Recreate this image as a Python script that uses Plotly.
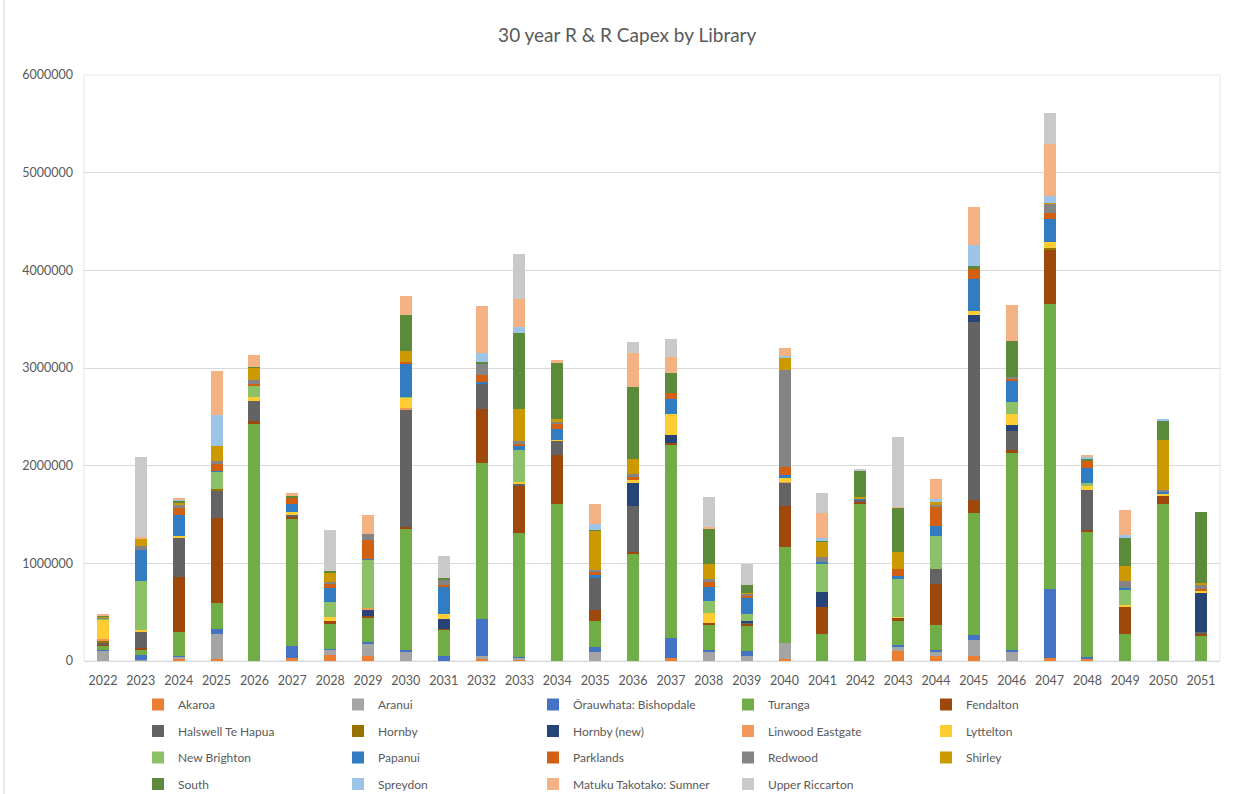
import plotly.graph_objects as go

years = ["2022", "2023", "2024", "2025", "2026", "2027", "2028", "2029", "2030", "2031",
         "2032", "2033", "2034", "2035", "2036", "2037", "2038", "2039", "2040", "2041",
         "2042", "2043", "2044", "2045", "2046", "2047", "2048", "2049", "2050", "2051"]

akaroa = [0, 0, 30000, 20000, 0, 30000, 65000, 50000, 0, 0, 30000, 20000, 0, 0, 0, 30000, 0, 0, 25000, 0, 0, 100000, 50000, 50000, 0, 30000, 30000, 0, 0, 0]
aranui = [105000, 15000, 15000, 260000, 0, 0, 55000, 130000, 100000, 0, 20000, 12000, 0, 95000, 0, 0, 100000, 50000, 155000, 0, 0, 50000, 50000, 170000, 100000, 0, 0, 0, 0, 0]
orauwhata = [5000, 50000, 5000, 50000, 0, 120000, 8000, 10000, 8000, 55000, 380000, 12000, 0, 45000, 0, 205000, 12000, 50000, 0, 0, 0, 12000, 12000, 45000, 8000, 710000, 15000, 0, 0, 0]
turanga = [50000, 50000, 250000, 260000, 2430000, 1305000, 260000, 255000, 1250000, 265000, 1600000, 1270000, 1610000, 265000, 1100000, 1985000, 260000, 260000, 985000, 275000, 1610000, 250000, 260000, 1250000, 2030000, 2915000, 1280000, 280000, 1610000, 265000]
fendalton = [10000, 15000, 560000, 870000, 25000, 15000, 20000, 15000, 12000, 12000, 555000, 475000, 500000, 120000, 12000, 15000, 20000, 20000, 420000, 280000, 20000, 30000, 415000, 135000, 20000, 560000, 12000, 280000, 75000, 15000]
halswell = [10000, 170000, 400000, 290000, 210000, 30000, 0, 0, 1210000, 0, 255000, 30000, 145000, 330000, 470000, 0, 0, 15000, 240000, 0, 20000, 0, 150000, 1820000, 195000, 0, 415000, 0, 0, 20000]
hornby = [30000, 0, 0, 12000, 0, 0, 0, 0, 0, 0, 0, 0, 0, 0, 0, 0, 0, 0, 0, 0, 0, 0, 0, 0, 0, 12000, 0, 0, 0, 0]
hornby_new = [0, 5000, 0, 0, 0, 0, 0, 70000, 0, 100000, 0, 0, 0, 0, 240000, 75000, 0, 10000, 0, 155000, 0, 0, 0, 75000, 60000, 0, 0, 0, 0, 400000]
linwood = [15000, 0, 0, 0, 0, 0, 0, 10000, 8000, 0, 0, 0, 0, 0, 0, 0, 0, 0, 8000, 0, 0, 0, 0, 0, 0, 0, 0, 0, 0, 0]
lyttelton = [200000, 15000, 20000, 0, 40000, 30000, 40000, 0, 105000, 50000, 0, 15000, 12000, 0, 30000, 215000, 100000, 0, 40000, 0, 0, 10000, 0, 40000, 120000, 60000, 40000, 12000, 25000, 20000]
new_brighton = [10000, 500000, 0, 175000, 120000, 0, 155000, 500000, 12000, 0, 0, 330000, 0, 0, 0, 0, 120000, 75000, 0, 290000, 0, 385000, 340000, 0, 120000, 0, 30000, 160000, 0, 0]
papanui = [0, 315000, 220000, 8000, 0, 75000, 140000, 8000, 340000, 280000, 12000, 40000, 110000, 30000, 0, 160000, 150000, 165000, 30000, 12000, 12000, 30000, 105000, 330000, 215000, 235000, 155000, 15000, 30000, 0]
parklands = [0, 0, 70000, 70000, 15000, 70000, 50000, 190000, 12000, 20000, 80000, 20000, 55000, 30000, 30000, 60000, 50000, 30000, 80000, 0, 0, 70000, 200000, 100000, 15000, 60000, 75000, 0, 0, 15000]
redwood = [10000, 40000, 25000, 30000, 40000, 0, 15000, 60000, 0, 55000, 115000, 30000, 15000, 15000, 35000, 0, 30000, 20000, 995000, 55000, 0, 0, 12000, 0, 25000, 100000, 0, 75000, 12000, 50000]
shirley = [10000, 80000, 30000, 155000, 120000, 0, 100000, 0, 120000, 0, 0, 330000, 30000, 405000, 155000, 0, 150000, 5000, 120000, 155000, 15000, 180000, 30000, 0, 0, 12000, 0, 150000, 510000, 15000]
south = [10000, 0, 15000, 0, 12000, 15000, 15000, 0, 365000, 15000, 12000, 775000, 575000, 8000, 730000, 200000, 365000, 80000, 0, 8000, 275000, 450000, 0, 30000, 370000, 0, 15000, 285000, 200000, 730000]
spreydon = [0, 0, 10000, 320000, 0, 0, 0, 0, 0, 0, 90000, 60000, 0, 60000, 0, 0, 0, 0, 30000, 30000, 0, 0, 35000, 215000, 0, 70000, 25000, 30000, 12000, 0]
sumner = [20000, 15000, 20000, 450000, 117000, 35000, 0, 195000, 200000, 0, 490000, 285000, 25000, 200000, 350000, 170000, 12000, 0, 75000, 255000, 0, 12000, 200000, 390000, 370000, 525000, 15000, 260000, 0, 0]
upper_riccarton = [0, 815000, 0, 0, 0, 0, 420000, 0, 0, 220000, 0, 460000, 0, 0, 110000, 180000, 315000, 215000, 0, 210000, 12000, 715000, 0, 0, 0, 320000, 0, 0, 0, 0]

series_names = ["Akaroa", "Aranui", "Ōrauwhata: Bishopdale", "Turanga", "Fendalton",
                "Halswell Te Hapua", "Hornby", "Hornby (new)", "Linwood Eastgate", "Lyttelton",
                "New Brighton", "Papanui", "Parklands", "Redwood", "Shirley",
                "South", "Spreydon", "Matuku Takotako: Sumner", "Upper Riccarton"]
series_values = [akaroa, aranui, orauwhata, turanga, fendalton,
                 halswell, hornby, hornby_new, linwood, lyttelton,
                 new_brighton, papanui, parklands, redwood, shirley,
                 south, spreydon, sumner, upper_riccarton]
colors = ["#ED7D31", "#A5A5A5", "#4472C4", "#70AD47", "#9E480E",
          "#636363", "#997300", "#264478", "#F1975A", "#FFCD33",
          "#8CC168", "#327DC2", "#D26012", "#848484", "#CC9A00",
          "#5B8A3A", "#9DC3E6", "#F4B183", "#C9C9C9"]

FONT = "Lato, 'Open Sans', sans-serif"
TXT = "#595959"

# plot area in pixels
PL, PR, PT, PB = 84, 1220, 75, 661
W, H = 1247, 794
PW, PH = PR - PL, PB - PT

fig = go.Figure()
legend_ids = ["legend", "legend2", "legend3", "legend4", "legend5"]
for i, (name, vals, col) in enumerate(zip(series_names, series_values, colors)):
    fig.add_trace(go.Bar(
        x=years, y=vals, name=name,
        marker=dict(color=col, line=dict(width=0)),
        legend=legend_ids[i % 5], legendgroup=name,
        hovertemplate="%{x}<br>" + name + ": %{y}<extra></extra>",
    ))

legend_left_px = [138, 338, 533, 728, 926]
legend_top_px = 690
legends = {}
for k, lid in enumerate(legend_ids):
    legends[lid] = dict(
        x=(legend_left_px[k] - PL) / PW, xanchor="left",
        y=(PB - legend_top_px) / PH, yanchor="top",
        orientation="v", tracegroupgap=7.5,
        font=dict(family=FONT, size=12, color=TXT),
        bgcolor="rgba(0,0,0,0)", borderwidth=0,
    )

fig.update_layout(
    width=W, height=H,
    margin=dict(l=PL, r=W - PR, t=PT, b=H - PB, autoexpand=False),
    paper_bgcolor="white", plot_bgcolor="white",
    barmode="stack", bargap=0.683,
    font=dict(family=FONT, size=12, color=TXT),
    title=dict(text="30 year R & R Capex by Library", x=0.503, xanchor="center",
               y=1 - 35 / H, yanchor="middle", yref="container",
               font=dict(family=FONT, size=19, color=TXT)),
    xaxis=dict(type="category", showgrid=False, showline=True, linecolor="#D9D9D9",
               linewidth=1, ticks="", tickfont=dict(family=FONT, size=12.5, color=TXT),
               ticklabelstandoff=8),
    yaxis=dict(range=[0, 6000000], dtick=1000000, tickformat=".0f", showgrid=True,
               gridcolor="#D9D9D9", gridwidth=1, zeroline=False, showline=False,
               ticks="", tickfont=dict(family=FONT, size=12.5, color=TXT),
               ticklabelstandoff=10),
    showlegend=True,
    **legends,
)

# faint plot-area border and chart-area left border
fig.add_shape(type="rect", xref="paper", yref="paper", x0=0, x1=1, y0=0, y1=1,
              line=dict(color="#DEE7F2", width=1), layer="below")
fig.add_shape(type="line", xref="paper", yref="paper",
              x0=(4 - PL) / PW, x1=(4 - PL) / PW, y0=(PB - 0) / PH, y1=(PB - H) / PH,
              line=dict(color="#D9D9D9", width=1))

fig.write_html("out.html")
